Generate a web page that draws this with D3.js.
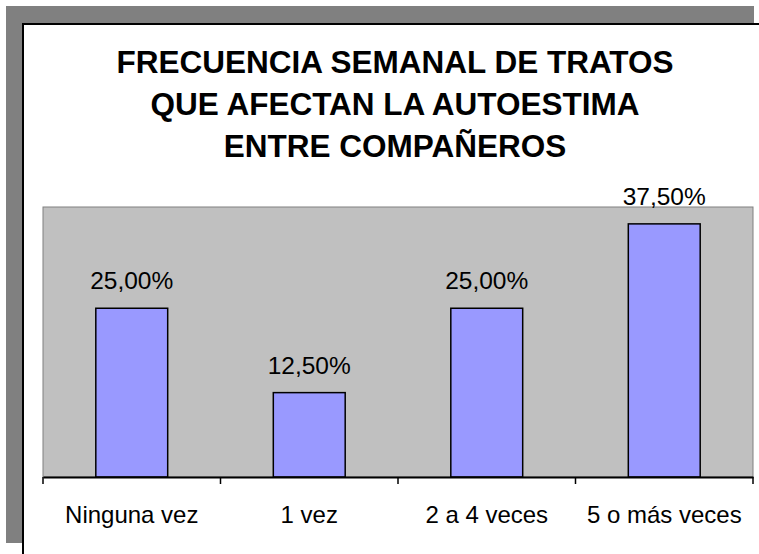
<!DOCTYPE html>
<html>
<head>
<meta charset="utf-8">
<script src="https://cdn.jsdelivr.net/npm/d3@7"></script>
<style>
  body { margin: 0; background: #fff; }
  text { font-family: "Liberation Sans", Arial, sans-serif; fill: #000; }
</style>
</head>
<body>
<script>
// Data
const CATEGORIES = ["Ninguna vez", "1 vez", "2 a 4 veces", "5 o más veces"];
const VALUES     = [0.25, 0.125, 0.25, 0.375];
const TITLE      = ["FRECUENCIA SEMANAL DE TRATOS", "QUE AFECTAN LA AUTOESTIMA", "ENTRE COMPAÑEROS"];

// Figure
const W = 759, H = 554;
const plot = { left: 43, right: 753, top: 207, bottom: 477 };

const fmt = v => d3.format(".2f")(v * 100).replace(".", ",") + "%";

const x = d3.scaleBand()
  .domain(CATEGORIES)
  .range([plot.left, plot.right]);
const y = d3.scaleLinear()
  .domain([0, 0.4])
  .range([plot.bottom, plot.top]);
const barW = x.bandwidth() * 0.405;

const svg = d3.select("body").append("svg")
  .attr("width", W)
  .attr("height", H);

// Shadow + frame
svg.append("rect")
  .attr("x", 6).attr("y", 6)
  .attr("width", 748).attr("height", 537)
  .attr("fill", "#808080");
svg.append("rect")
  .attr("x", 23).attr("y", 24)
  .attr("width", 760).attr("height", 560)
  .attr("fill", "#fff")
  .attr("stroke", "#000")
  .attr("stroke-width", 2);

// Title
svg.append("text")
  .attr("text-anchor", "middle")
  .attr("font-size", 31.5)
  .attr("font-weight", "bold")
  .selectAll("tspan")
  .data(TITLE)
  .join("tspan")
    .attr("x", 395)
    .attr("y", (d, i) => 73 + i * 42)
    .text(d => d);

// Plot area
svg.append("rect")
  .attr("x", plot.left).attr("y", plot.top)
  .attr("width", plot.right - plot.left)
  .attr("height", plot.bottom - plot.top)
  .attr("fill", "#C0C0C0")
  .attr("stroke", "#808080")
  .attr("stroke-width", 1);

// Bars
const data = CATEGORIES.map((c, i) => ({ cat: c, val: VALUES[i] }));

svg.append("g")
  .selectAll("rect")
  .data(data)
  .join("rect")
    .attr("x", d => x(d.cat) + x.bandwidth() / 2 - barW / 2)
    .attr("y", d => y(d.val))
    .attr("width", barW)
    .attr("height", d => y(0) - y(d.val))
    .attr("fill", "#9999FF")
    .attr("stroke", "#000")
    .attr("stroke-width", 1.5);

// Value labels
svg.append("g")
  .selectAll("text")
  .data(data)
  .join("text")
    .attr("x", d => x(d.cat) + x.bandwidth() / 2)
    .attr("y", d => y(d.val) - 19)
    .attr("text-anchor", "middle")
    .attr("font-size", 24.5)
    .text(d => fmt(d.val));

// X axis (ticks between categories)
const xAxis = g => {
  g.attr("transform", `translate(0, ${plot.bottom})`)
    .call(d3.axisBottom(x).tickSize(0).tickPadding(29))
    .call(g => g.select(".domain").attr("stroke", "#000").attr("stroke-width", 2))
    .call(g => g.selectAll(".tick text")
      .attr("font-size", 24)
      .attr("font-family", "Liberation Sans, Arial, sans-serif")
      .attr("fill", "#000"));
  const edges = CATEGORIES.map(c => x(c)).concat([plot.right]);
  g.selectAll(".edge")
    .data(edges)
    .join("line")
      .attr("class", "edge")
      .attr("x1", d => d).attr("x2", d => d)
      .attr("y1", 0).attr("y2", 7)
      .attr("stroke", "#000")
      .attr("stroke-width", 1.5);
};
svg.append("g").call(xAxis);
</script>
</body>
</html>
